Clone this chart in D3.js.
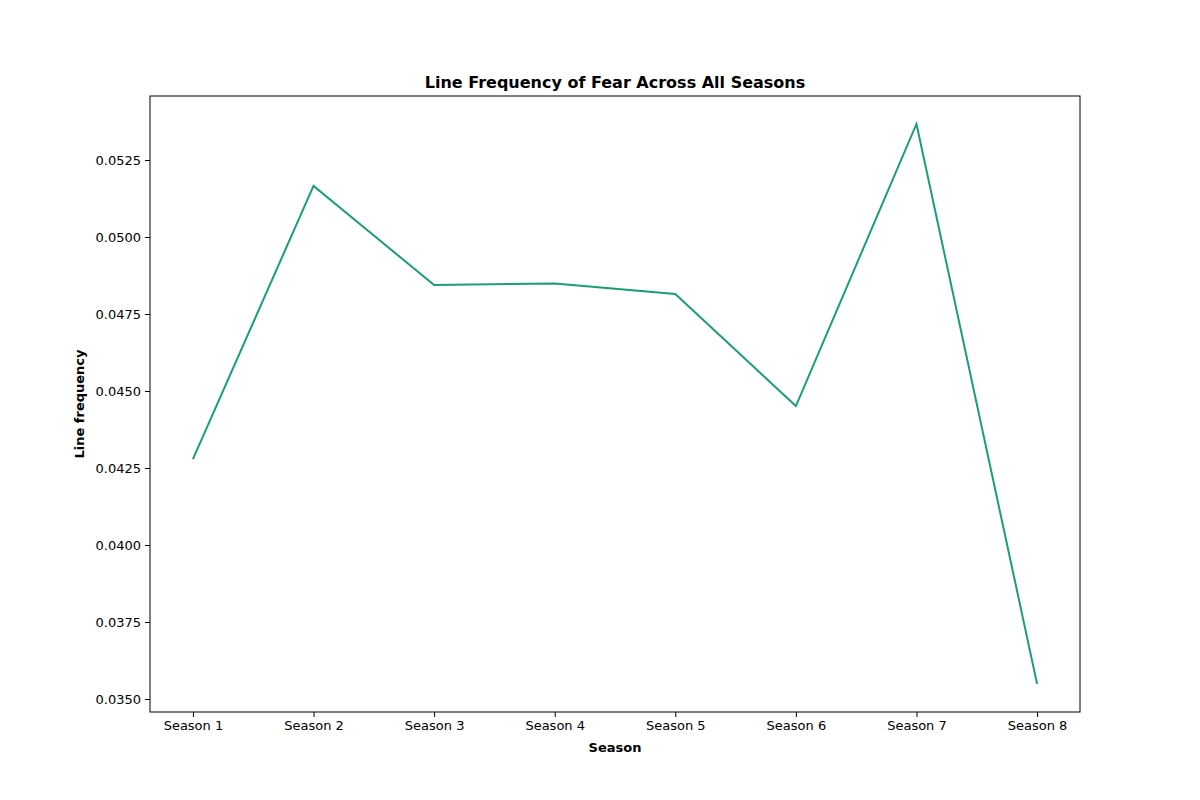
<!DOCTYPE html>
<html>
<head>
<meta charset="utf-8">
<script src="https://cdn.jsdelivr.net/npm/d3@7"></script>
<style>
body { margin: 0; background: #fff; }
text { font-family: "DejaVu Sans", sans-serif; }
</style>
</head>
<body>
<div id="chart"></div>
<script>
var seasons = ["Season 1", "Season 2", "Season 3", "Season 4", "Season 5", "Season 6", "Season 7", "Season 8"];
var frequency = [0.04279, 0.05166, 0.04844, 0.04849, 0.04815, 0.04451, 0.05367, 0.03549];
var yTicks = [0.0350, 0.0375, 0.0400, 0.0425, 0.0450, 0.0475, 0.0500, 0.0525];

var svgWidth = 1200, svgHeight = 800;
var margin = {top: 96, right: 120, bottom: 88, left: 150};
var width = svgWidth - margin.left - margin.right;
var height = svgHeight - margin.top - margin.bottom;

var svg = d3.select("#chart").append("svg")
    .attr("width", svgWidth)
    .attr("height", svgHeight);

var chartGroup = svg.append("g")
    .attr("transform", `translate(${margin.left}, ${margin.top})`);

var x = d3.scalePoint()
    .domain(seasons)
    .range([0, width])
    .padding(0.356);

var y = d3.scaleLinear()
    .domain([0.034578, 0.054578])
    .range([height, 0]);

var bottomAxis = d3.axisBottom(x).tickSize(5).tickPadding(4);
var leftAxis = d3.axisLeft(y).tickValues(yTicks).tickFormat(d3.format(".4f")).tickSize(5).tickPadding(4);

var gx = chartGroup.append("g")
    .attr("transform", `translate(0, ${height})`)
    .call(bottomAxis);
var gy = chartGroup.append("g").call(leftAxis);
[gx, gy].forEach(function(g) {
    g.select(".domain").remove();
    g.selectAll("text").style("font-size", "13px").attr("fill", "#000");
    g.selectAll("line").attr("stroke", "#000");
});

chartGroup.append("rect")
    .attr("width", width)
    .attr("height", height)
    .attr("fill", "none")
    .attr("stroke", "#000")
    .attr("stroke-width", 1);

var line = d3.line()
    .x(function(d, i) { return x(seasons[i]); })
    .y(function(d) { return y(d); });

chartGroup.append("path")
    .datum(frequency)
    .attr("d", line)
    .attr("fill", "none")
    .attr("stroke", "#1b9e77")
    .attr("stroke-width", 2);

svg.append("text")
    .attr("x", margin.left + width / 2)
    .attr("y", 88)
    .attr("text-anchor", "middle")
    .style("font-size", "16px")
    .style("font-weight", "bold")
    .text("Line Frequency of Fear Across All Seasons");

svg.append("text")
    .attr("x", margin.left + width / 2)
    .attr("y", 752)
    .attr("text-anchor", "middle")
    .style("font-size", "13px")
    .style("font-weight", "bold")
    .text("Season");

svg.append("text")
    .attr("transform", `translate(84, ${margin.top + height / 2}) rotate(-90)`)
    .attr("text-anchor", "middle")
    .style("font-size", "13px")
    .style("font-weight", "bold")
    .text("Line frequency");
</script>
</body>
</html>
